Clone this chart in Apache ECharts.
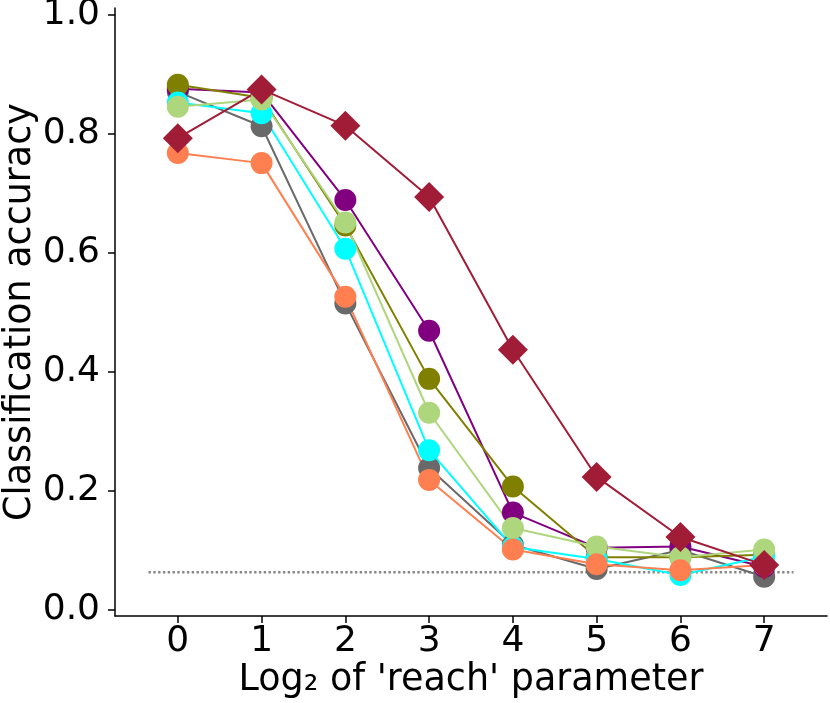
<!DOCTYPE html>
<html>
<head>
<meta charset="utf-8">
<script src="https://cdn.jsdelivr.net/npm/echarts@6/dist/echarts.min.js"></script>
<style>
  html, body { margin: 0; padding: 0; background: #fff; }
  #chart { width: 830px; height: 703px; }
</style>
</head>
<body>
<div id="chart"></div>
<script>
// x = log2 of the 'reach' parameter
var reachLog2 = [0, 1, 2, 3, 4, 5, 6, 7];
var yTicks = [0, 0.2, 0.4, 0.6, 0.8, 1.0];
var chanceLevel = 0.0625;
var chanceSpan = [-0.35, 7.35];

// accuracy per run
var accGray   = [0.871, 0.813, 0.515, 0.238, 0.109, 0.068, 0.100, 0.055];
var accPurple = [0.876, 0.870, 0.689, 0.469, 0.163, 0.104, 0.106, 0.072];
var accOlive  = [0.883, 0.861, 0.646, 0.388, 0.207, 0.088, 0.088, 0.092];
var accCyan   = [0.853, 0.835, 0.607, 0.268, 0.105, 0.085, 0.058, 0.089];
var accLight  = [0.846, 0.858, 0.651, 0.331, 0.137, 0.106, 0.088, 0.101];
var accCoral  = [0.768, 0.751, 0.526, 0.218, 0.101, 0.076, 0.066, 0.075];
var accRed    = [0.793, 0.875, 0.814, 0.694, 0.437, 0.223, 0.122, 0.075];

function pairs(vals) {
    return reachLog2.map(function (x, i) { return [x, vals[i]]; });
}

function run(vals, color, symbol, size) {
    return {
        type: 'line',
        data: pairs(vals),
        symbol: symbol,
        symbolSize: size,
        lineStyle: { color: color, width: 2 },
        itemStyle: { color: color },
        z: 3
    };
}

var myChart = echarts.init(document.getElementById('chart'));

var font = 'DejaVu Sans';

var option = {
    animation: false,
    backgroundColor: '#ffffff',
    grid: { left: 115, right: 3, top: 8, bottom: 87, containLabel: false, outerBoundsMode: 'none' },
    xAxis: {
        type: 'value',
        min: -0.75,
        max: 7.75,
        name: "Log\u2082 of 'reach' parameter",
        nameLocation: 'middle',
        nameGap: 46,
        nameMoveOverlap: false,
        nameTextStyle: { fontFamily: font, fontSize: 36.5, color: '#000' },
        axisLine: { onZero: false, lineStyle: { color: '#000', width: 1.5 } },
        axisTick: { customValues: reachLog2, length: 7, lineStyle: { color: '#000', width: 1.5 } },
        axisLabel: { customValues: reachLog2, margin: 8, fontFamily: font, fontSize: 36, color: '#000' },
        splitLine: { show: false }
    },
    yAxis: {
        type: 'value',
        min: -0.011,
        max: 1.012,
        name: 'Classification accuracy',
        nameLocation: 'middle',
        nameRotate: 90,
        nameGap: 76,
        nameMoveOverlap: false,
        nameTextStyle: { fontFamily: font, fontSize: 36.5, color: '#000' },
        axisLine: { show: true, onZero: false, lineStyle: { color: '#000', width: 1.5 } },
        axisTick: { show: true, customValues: yTicks, length: 7, lineStyle: { color: '#000', width: 1.5 } },
        axisLabel: {
            customValues: yTicks, margin: 15, fontFamily: font, fontSize: 36, color: '#000',
            formatter: function (v) { return v.toFixed(1); }
        },
        splitLine: { show: false }
    },
    series: [
        {
            type: 'line',
            data: [[chanceSpan[0], chanceLevel], [chanceSpan[1], chanceLevel]],
            symbol: 'none',
            lineStyle: { color: '#888888', width: 2.6, type: [2.4, 2.4] },
            z: 2
        },
        run(accGray,   '#696969', 'circle', 22),
        run(accPurple, '#800080', 'circle', 22),
        run(accOlive,  '#808000', 'circle', 22),
        run(accCyan,   '#00ffff', 'circle', 22),
        run(accLight,  '#aed67d', 'circle', 22),
        run(accCoral,  '#ff7f50', 'circle', 22),
        run(accRed,    '#a11c36', 'diamond', 30)
    ]
};

myChart.setOption(option);
</script>
</body>
</html>
